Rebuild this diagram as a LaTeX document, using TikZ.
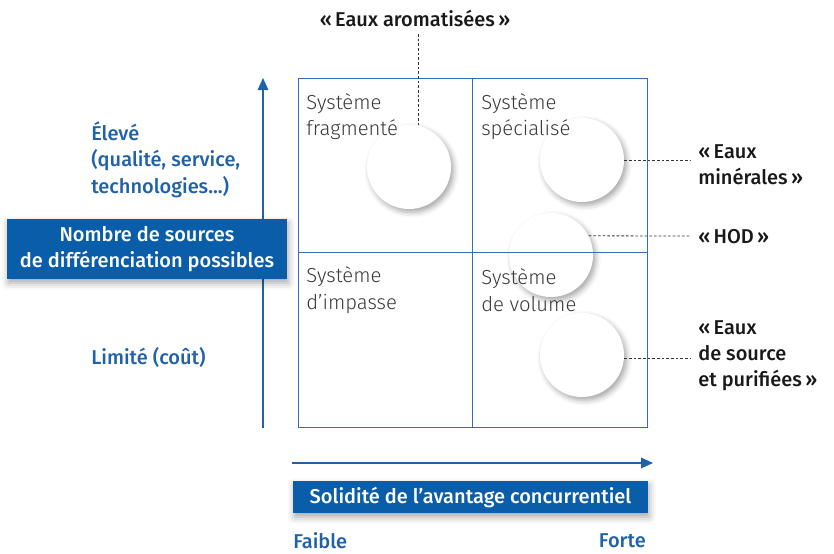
\documentclass[tikz,border=0pt]{standalone}
\usepackage{fontspec}
\setmainfont{Fira Sans}
\newfontfamily\medfont{Fira Sans Medium}
\newfontfamily\lightfont{Fira Sans Light}
\usetikzlibrary{shadows.blur,arrows.meta}
\definecolor{axisblue}{HTML}{1F62AA}
\definecolor{gridblue}{HTML}{2F6FBA}
\definecolor{boxblue}{HTML}{0A5DA9}
\definecolor{labgray}{HTML}{3A3A3A}
\definecolor{leadgray}{HTML}{333333}
\tikzset{
  bubble/.style={circle, fill=white, minimum size=63pt, inner sep=0pt,
    blur shadow={shadow xshift=2pt, shadow yshift=-2.5pt, shadow blur radius=4pt, shadow opacity=35}},
  gridline/.style={draw=gridblue, line width=0.7pt},
  axisline/.style={draw=axisblue, line width=0.9pt, -{Triangle[length=9pt,width=8pt]}},
  bluebox/.style={fill=boxblue, text=white, inner sep=0pt, align=center,
    font=\medfont\fontsize{15}{19.5}\selectfont,
    blur shadow={shadow xshift=1pt, shadow yshift=-3pt, shadow blur radius=5pt, shadow opacity=35}},
  bluelab/.style={text=axisblue, inner sep=0pt, align=left, font=\medfont\fontsize{15}{20}\selectfont},
  quadlab/.style={text=labgray, inner sep=0pt, align=left, anchor=west, font=\lightfont\fontsize{15.2}{20}\selectfont},
  leadlab/.style={text=black!90, inner sep=0pt, align=left, font=\medfont\fontsize{15}{19.5}\selectfont},
  leader/.style={draw=leadgray, line width=0.6pt, dash pattern=on 2pt off 1.5pt},
}
\begin{document}
\begin{tikzpicture}[x=0.75pt,y=-0.75pt]
\useasboundingbox (0,0) rectangle (834,553);
% bubbles
\node[bubble] (c1) at (409,167) {};
\node[bubble] (c2) at (582,160) {};
\node[bubble] (c3) at (551,255) {};
\node[bubble] (c4) at (582,355) {};
% grid
\coordinate (g1) at (298,78);
\coordinate (g2) at (647,427);
\coordinate (gm) at (472,252);
\draw[gridline] (g1) rectangle (g2);
\draw[gridline] (gm |- g1) -- (gm |- g2);
\draw[gridline] (gm -| g1) -- (gm -| g2);
% quadrant labels
\node[quadlab] (q1) at (306,116.5) {Système\\fragmenté};
\node[quadlab] (q2) at (481,116.5) {Système\\spécialisé};
\node[quadlab] (q3) at (306,290) {Système\\d’impasse};
\node[quadlab] (q4) at (481,290) {Système\\de volume};
% axes
\coordinate (ya0) at (263,428);
\coordinate (ya1) at (263,78);
\draw[axisline] (ya0) -- (ya1);
\coordinate (xa0) at (292,463);
\coordinate (xa1) at (653,463);
\draw[axisline] (xa0) -- (xa1);
% axis boxes
\node[bluebox, minimum width=210pt, minimum height=45pt] (ylab) at (147,249) {Nombre de sources\\de différenciation possibles};
\node[bluebox, minimum width=266pt, minimum height=24pt] (xlab) at (470.5,497) {Solidité de l’avantage concurrentiel};
% axis value labels
\node[bluelab, anchor=west] (high) at (91,159.5) {Élevé\\(qualité, service,\\technologies...)};
\node[bluelab, anchor=west] (low) at (91,357) {Limité (coût)};
\node[bluelab, anchor=west] (weak) at (293,541) {Faible};
\node[bluelab, anchor=east] (strong) at (646,541) {Forte};
% leader labels
\node[leadlab, align=center] (l1) at (415,18) {«\,Eaux aromatisées\,»};
\node[leadlab, anchor=west] (l2) at (698,165) {«\,Eaux\\minérales\,»};
\node[leadlab, anchor=west] (l3) at (698,237) {«\,HOD\,»};
\node[leadlab, anchor=west] (l4) at (698,356) {«\,Eaux\\de source\\et purifiées\,»};
% leaders
\coordinate (e1) at (418,34);
\draw[leader] (e1) -- (e1 |- c1.north);
\coordinate (e2) at (690,160);
\draw[leader] (c2.east) -- (e2);
\coordinate (e3) at (690,236);
\draw[leader] (c3.27) -- (e3);
\coordinate (e4) at (690,358);
\draw[leader] (c4.east |- e4) -- (e4);
\end{tikzpicture}
\end{document}
